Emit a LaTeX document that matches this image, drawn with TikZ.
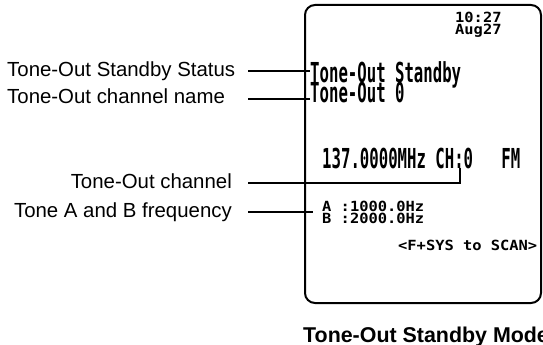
\documentclass[tikz,border=0pt]{standalone}
\usepackage{fontspec}
\setmainfont{Liberation Sans}
\newfontfamily\lcdbig[FakeStretch=0.57]{DejaVu Sans Mono Bold}
\newfontfamily\lcdsml[FakeStretch=1.1]{DejaVu Sans Mono Bold}
\usetikzlibrary{calc}
\begin{document}
\begin{tikzpicture}[x=1pt,y=-1pt,
lbl/.style={inner sep=0,font=\fontsize{20.4}{24}\selectfont},
big/.style={inner sep=0,anchor=base west,font=\lcdbig\fontsize{27.5}{30}\selectfont},
sml/.style={inner sep=0,anchor=base west,font=\lcdsml\fontsize{14}{16}\selectfont},
lead/.style={line width=2pt}]
\useasboundingbox(0,0)rectangle(543,345);
\draw[line width=2pt,rounded corners=10pt](305,5)rectangle(541,303);
\node[sml](tim)at(455,23){10:27};\node[sml](dat)at(455,35){Aug27};
\node[big](tsb)at(310,82){Tone-Out Standby};\node[big](tnm)at(310,102){Tone-Out 0};
\node[big](frq)at(322,168){137.0000MHz CH:0\ \ \ FM};
\node[sml](ta)at(322,211){A :1000.0Hz};\node[sml](tb)at(322,223){B :2000.0Hz};
\node[sml](scn)at(398,250){<F+SYS to SCAN>};
\node[lbl,anchor=base west](lsb)at(7,76){Tone-Out Standby Status};
\node[lbl,anchor=base west](lnm)at(7,103){Tone-Out channel name};
\node[lbl,anchor=base east](lch)at(232,188){Tone-Out channel};
\node[lbl,anchor=base east](lab)at(232,217){Tone A and B frequency};
\node[inner sep=0,anchor=base west,font=\bfseries\fontsize{21.4}{24}\selectfont](cap)at(303,342){Tone-Out Standby Mode};
\coordinate(s1)at(248,70.5);\coordinate(s2)at(248,98.5);\coordinate(s3)at(248,183);\coordinate(s4)at(248,212);
\coordinate(pin)at(460,168);
\draw[lead](s1)--(s1-|tsb.west);\draw[lead](s2)--(s2-|tnm.west);
\draw[lead](s3)-|(pin);\draw[lead](s4)--($(s4-|ta.west)+(-9,0)$);
\end{tikzpicture}
\end{document}
